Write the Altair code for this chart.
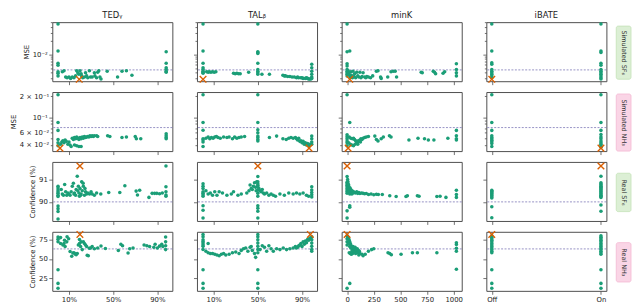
import altair as alt
import pandas as pd

W, H = 122, 60

def col(x, ys):
    return [(x, y) for y in ys]

# ---------------- Row 1: Simulated SF6 (MSE, log) ----------------
SF6SIM_TED = col(0.1, [0.0465, 0.0119, 0.0064, 0.0058, 0.0042, 0.0039, 0.0034]) + [
    (4, 0.0042), (5.5, 0.0044), (7, 0.0032), (8.3, 0.0031), (10, 0.0032), (11.5, 0.0030),
    (13, 0.0032), (14.5, 0.0031), (16, 0.0034), (17, 0.0044), (18, 0.0040), (19, 0.0037),
    (20, 0.0044), (21, 0.0038), (21.5, 0.0034), (22.5, 0.0031), (24, 0.0032), (25, 0.0040),
    (26, 0.0034), (27, 0.0031), (28.5, 0.0044), (29.5, 0.0032), (31, 0.0032), (33, 0.0040),
    (33.5, 0.0034), (35, 0.0031), (36, 0.0041), (37, 0.0044), (38, 0.0032), (39, 0.0029),
    (44.6, 0.0043), (54, 0.0032), (58, 0.0043), (62, 0.0044), (67, 0.0035)] + \
    col(98, [0.0115, 0.0064, 0.0051, 0.0047, 0.0043, 0.0041])
SF6SIM_TAL = col(0.4, [0.0465, 0.0119, 0.0064, 0.0051, 0.0047, 0.0043, 0.0041, 0.0039]) + [
    (3.7, 0.0042), (5, 0.0041), (6, 0.0042), (7.5, 0.0041), (9, 0.0042), (10.5, 0.0041),
    (12, 0.0042), (28, 0.0039), (29.5, 0.0038), (31, 0.0039), (32.5, 0.0038), (34, 0.0038),
    (41.7, 0.0041)] + col(50, [0.0465, 0.0115, 0.0110, 0.0105, 0.0064, 0.0047, 0.0043, 0.0040, 0.0037]) + [
    (53.7, 0.0037), (60.5, 0.0037), (72.7, 0.0035), (74, 0.0034), (75, 0.0034), (77, 0.0033),
    (79, 0.0033), (81, 0.0032), (83, 0.0032), (85, 0.0031), (86, 0.0032), (87, 0.0031),
    (89, 0.0031), (90, 0.0031), (91, 0.0030), (93, 0.0030), (94, 0.0031), (95, 0.0030),
    (96, 0.0029), (97, 0.0029), (98, 0.0029)] + \
    col(98.8, [0.0061, 0.0051, 0.0043, 0.0037, 0.0032, 0.0030])
SF6SIM_MINK = col(0, [0.0465, 0.0115, 0.0063, 0.0056, 0.0047, 0.0043, 0.0040, 0.0037, 0.0034]) + [
    (25, 0.0119), (10, 0.0044), (15, 0.0036), (20, 0.0040), (30, 0.0032), (35, 0.0042),
    (40, 0.0035), (50, 0.0031), (55, 0.0043), (65, 0.0033), (70, 0.0038), (80, 0.0031),
    (90, 0.0041), (100, 0.0034), (110, 0.0032), (120, 0.0041), (130, 0.0031), (140, 0.0033),
    (150, 0.0040), (165, 0.0032), (175, 0.0031), (185, 0.0033), (200, 0.0032), (220, 0.0031),
    (240, 0.0034), (275, 0.0043), (290, 0.0044), (314, 0.0032), (320, 0.0030), (381, 0.0032),
    (412, 0.0042), (433, 0.0043), (451, 0.0043), (464, 0.0032), (695, 0.0041), (705, 0.0040),
    (808, 0.0043), (820, 0.0041), (830, 0.0038), (900, 0.0039), (915, 0.0042)] + \
    col(1025, [0.0063, 0.0047, 0.0040, 0.0034])
SF6SIM_IBATE = col(0, [0.0465, 0.0119, 0.0066, 0.0061, 0.0047, 0.0043, 0.0040, 0.0037, 0.0034, 0.0031]) + \
    col(1, [0.0465, 0.0119, 0.0110, 0.0064, 0.0058, 0.0047, 0.0043, 0.0040, 0.0037, 0.0034, 0.0031, 0.0029])

# ---------------- Row 2: Simulated NH3 (MSE, log) ----------------
NH3SIM_TED = col(0.1, [0.21, 0.084, 0.0647, 0.048, 0.043, 0.039]) + [
    (2.5, 0.041), (3.5, 0.044), (4.5, 0.046), (5.5, 0.043), (6.5, 0.047), (7.5, 0.045),
    (9, 0.041), (10, 0.044), (11, 0.040), (12, 0.038), (13, 0.050), (14, 0.048), (15, 0.051),
    (16, 0.049), (17, 0.052), (18, 0.050), (19, 0.048), (20, 0.051), (21, 0.049), (22, 0.052),
    (23, 0.050), (24, 0.053), (25, 0.051), (26, 0.052), (27, 0.053), (28, 0.052), (29, 0.054),
    (30, 0.053), (31, 0.054), (32, 0.053), (33, 0.054), (35, 0.054), (36, 0.053), (15, 0.040),
    (17, 0.039), (19, 0.038), (21, 0.038), (45, 0.054), (47, 0.053), (58, 0.051), (62, 0.052),
    (70, 0.053), (71, 0.049), (75, 0.049)] + col(98, [0.058, 0.054, 0.051, 0.049])
NH3SIM_TAL = col(0.4, [0.21, 0.084, 0.065, 0.049, 0.047, 0.044, 0.038]) + [
    (3, 0.050), (5, 0.052), (6.5, 0.049), (8, 0.051), (9.5, 0.050), (11, 0.052), (12.5, 0.053),
    (14, 0.051), (16, 0.050), (19, 0.052), (22, 0.051), (24, 0.052), (27, 0.049), (29, 0.052),
    (31, 0.050), (33, 0.051), (35, 0.052), (38, 0.053)] + \
    col(50, [0.21, 0.084, 0.066, 0.060, 0.0535, 0.051, 0.048, 0.0456]) + [
    (60.5, 0.051), (67, 0.0535), (72.7, 0.049), (75.7, 0.048), (78, 0.050), (80, 0.051),
    (82, 0.050), (84, 0.051), (85, 0.049), (86, 0.047), (87, 0.050), (88, 0.045), (89, 0.046),
    (90, 0.043), (91, 0.045), (92, 0.041), (93, 0.043), (94, 0.040), (95, 0.042), (96, 0.039),
    (97, 0.041)] + col(98.8, [0.0535, 0.049, 0.044, 0.041])
NH3SIM_MINK = col(0, [0.21, 0.056, 0.0525, 0.049, 0.0456, 0.043, 0.039]) + [
    (25, 0.084), (15, 0.043), (20, 0.052), (30, 0.041), (35, 0.050), (45, 0.040), (50, 0.049),
    (60, 0.050), (60, 0.039), (70, 0.048), (75, 0.041), (80, 0.046), (90, 0.043), (95, 0.044),
    (100, 0.041), (105, 0.046), (110, 0.045), (120, 0.047), (125, 0.044), (130, 0.049),
    (140, 0.048), (150, 0.050), (165, 0.051), (180, 0.052), (200, 0.053), (260, 0.0535),
    (275, 0.048), (290, 0.0456), (320, 0.049), (340, 0.052), (397, 0.054), (412, 0.052),
    (580, 0.047), (665, 0.050), (726, 0.049), (762, 0.047), (814, 0.047), (945, 0.050)] + \
    col(1025, [0.0647, 0.054, 0.049, 0.047])
NH3SIM_IBATE = col(0, [0.21, 0.084, 0.0647, 0.054, 0.051, 0.049, 0.0467, 0.0445, 0.042, 0.038]) + \
    col(1, [0.21, 0.084, 0.0647, 0.0563, 0.052, 0.049, 0.0456, 0.043, 0.041, 0.039, 0.037])

# ---------------- Row 3: Real SF6 (Confidence %) ----------------
SF6REAL_TED = col(0.1, [90.7, 90.62, 90.53, 90.45, 90.38, 90.3, 90.24, 89.82, 89.7, 89.57, 89.24]) + [
    (3, 90.55), (4, 90.35), (5, 90.3), (6.1, 90.77), (7, 90.45), (8, 90.3), (9, 90.4),
    (10, 90.35), (11, 90.3), (12, 90.45), (13, 90.7), (14, 90.83), (14.5, 90.35), (15, 90.4),
    (16, 90.3), (16.5, 90.55), (17.5, 91.14), (18, 90.5), (18.5, 90.7), (19, 90.4), (19.5, 90.25),
    (20, 90.6), (20.5, 90.3), (21, 90.35), (21.5, 90.9), (22, 90.5), (22.8, 90.83), (23, 90.7),
    (24, 90.3), (24.5, 90.6), (25, 90.45), (26, 90.35), (27, 90.4), (28.6, 90.35), (30, 90.45),
    (31, 90.35), (33, 90.3), (35, 90.4), (38.8, 90.35), (46, 90.42), (56, 90.42), (60.6, 90.72),
    (70.8, 90.48), (72, 90.31), (74, 90.52), (82.4, 90.2), (85.3, 90.38), (87.5, 90.38),
    (89.5, 90.38), (92, 90.36), (94.5, 90.4)] + col(97.8, [91.6, 90.67, 90.45, 90.31, 90.25])
SF6REAL_TAL = col(0.4, [90.81, 90.7, 90.6, 90.45, 90.39, 90.32, 90.25, 89.83, 89.63, 89.28]) + [
    (3, 90.5), (5, 90.35), (7, 90.4), (9, 90.3), (11, 90.45), (13, 90.3), (15, 90.45), (18, 90.4),
    (22, 90.3), (26, 90.35), (28, 90.45), (32, 90.3), (35, 90.35), (40, 90.4), (42, 90.5),
    (43, 90.75), (44, 90.6), (45, 90.55), (46, 90.7), (47, 90.85), (48, 90.65), (48.5, 90.5),
    (49, 90.9)] + col(50, [91.13, 90.9, 90.81, 90.74, 90.67, 90.53, 90.39, 90.25, 89.83, 89.72, 89.58, 89.28]) + [
    (51, 90.6), (52, 90.5), (53, 90.45), (54, 90.55), (55, 90.4), (56, 90.35), (58, 90.4),
    (60, 90.3), (62, 90.35), (64, 90.3), (66, 90.25), (70, 90.35), (74, 90.3), (78, 90.4),
    (82, 90.35), (85, 90.4), (88, 90.35), (91, 90.4), (94, 90.3), (96, 90.25)] + \
    col(98.8, [90.67, 90.53, 90.42, 90.32, 90.22])
SF6REAL_MINK = col(0, [91.13, 90.88, 90.81, 90.74, 90.67, 90.6, 90.53, 90.46, 90.39, 89.6, 89.28]) + [
    (25, 89.83), (25, 89.76), (5, 91.0), (8, 90.9), (10, 90.8), (12, 90.7), (15, 90.75),
    (18, 90.65), (20, 90.6), (22, 90.55), (25, 90.5), (28, 90.62), (30, 90.45), (35, 90.55),
    (40, 90.5), (45, 90.42), (50, 90.48), (55, 90.4), (60, 90.45), (70, 90.42), (80, 90.4),
    (90, 90.45), (100, 90.38), (110, 90.42), (120, 90.37), (135, 90.4), (150, 90.38),
    (165, 90.36), (180, 90.37), (201, 90.33), (225, 90.35), (250, 90.32), (275, 90.34),
    (293, 90.33), (330, 90.33), (400, 90.27), (460, 90.24), (552, 90.24), (565, 90.27),
    (659, 90.27), (675, 90.25), (842, 90.24), (872, 90.25), (927, 90.2), (15, 90.45),
    (25, 90.35), (35, 90.4), (45, 90.35)] + col(1025, [90.52, 90.33, 90.2])
SF6REAL_IBATE = col(0, [90.52, 90.47, 90.42, 90.37, 90.32, 90.27, 90.22, 90.17, 89.78, 89.29]) + \
    col(1, [91.14, 90.85, 90.8, 90.75, 90.7, 90.65, 90.6, 90.55, 90.5, 90.45, 90.4, 90.35, 90.3,
            90.25, 90.2, 89.86, 89.58])

# ---------------- Row 4: Real NH3 (Confidence %) ----------------
NH3REAL_TED = col(0.1, [78.4, 75.5, 72.1, 36, 18.4, 12]) + [
    (2.4, 77.5), (2.4, 70), (4.5, 68), (5.5, 70), (6, 74), (6.5, 66), (8, 72), (8.3, 78.7),
    (9.7, 76), (11, 59.6), (12.5, 53.4), (13.5, 57.5), (14.5, 58), (15.5, 56.5), (16.5, 55.4),
    (17.5, 57), (18.5, 68), (19.5, 70), (19.5, 75), (20.5, 66), (21, 72), (22, 62), (23, 72),
    (24, 70), (25, 68), (26, 66), (26.5, 54.6), (27.5, 54), (28.5, 63.7), (29.5, 64),
    (31, 65.9), (33, 63), (36, 64), (39, 66.7), (43, 63.5), (54.7, 60.9), (57, 69), (58.5, 67),
    (63.5, 57.5), (65, 63), (68, 64), (78, 68), (80.5, 67), (83, 66), (86.8, 65), (88, 69),
    (90, 64), (92, 66.5), (94, 69), (95, 66)] + col(97.5, [78.4, 72, 67, 62])
NH3REAL_TAL = col(0.4, [81.6, 78.7, 74.6, 72.5, 70.4, 68.3, 66.2, 62.1, 36, 18.4, 12]) + [
    (3, 60), (5, 58), (5, 70), (7, 57), (9, 57), (11, 56), (13, 55), (15, 54), (17, 56), (19, 57),
    (21, 55), (24, 56), (27, 58), (30, 59), (33, 57), (35, 61), (37, 63), (39, 64), (41, 60),
    (43, 65), (44, 66), (45, 61), (47, 57), (48, 52)] + \
    col(50, [81.6, 78.7, 74.6, 70.4, 66.2, 62.1, 58, 36, 18.4, 12]) + [
    (52, 62), (54, 67), (56, 65), (58, 60), (60, 67), (62, 63), (64, 60), (67, 63), (70, 62),
    (73, 64), (76, 62), (79, 63), (82, 64), (84, 66), (85, 64), (86, 65), (87, 67), (88, 68),
    (89, 70), (90, 66), (91, 72), (92, 69), (93, 73), (94, 71), (95, 75), (96, 74), (97, 77),
    (98, 76)] + col(98.8, [78.7, 74.6, 70.4, 66.2, 62.1, 60])
NH3REAL_MINK = col(0, [80, 76, 72, 68, 12]) + [
    (25, 18.4), (10, 78), (15, 76), (20, 74), (25, 72), (30, 70), (35, 68), (40, 66), (45, 64),
    (50, 63), (60, 62), (70, 61), (80, 60), (90, 59), (20, 58), (30, 57), (40, 56), (50, 57),
    (60, 58), (70, 59), (80, 57), (100, 58), (120, 57), (140, 56), (110, 55), (150, 54),
    (15, 70), (25, 66), (35, 64), (45, 60), (55, 66), (65, 64), (75, 65), (85, 62), (95, 63),
    (105, 61), (115, 60), (170, 56), (200, 60), (230, 62), (250, 63), (384, 58), (400, 57),
    (415, 55.4), (506, 56), (613, 58), (659, 58), (842, 58)] + \
    col(1025, [70.8, 68.5, 63.7, 60, 36.6])
NH3REAL_IBATE = col(0, [80, 78, 76, 74, 72, 70, 68, 66, 64, 62, 60, 58, 36, 18.4, 12]) + \
    col(1, [80, 78, 76, 74, 72, 70, 68, 66, 64, 62, 60, 58, 56, 36, 18.4, 12])

DATA = [
    [SF6SIM_TED, SF6SIM_TAL, SF6SIM_MINK, SF6SIM_IBATE],
    [NH3SIM_TED, NH3SIM_TAL, NH3SIM_MINK, NH3SIM_IBATE],
    [SF6REAL_TED, SF6REAL_TAL, SF6REAL_MINK, SF6REAL_IBATE],
    [NH3REAL_TED, NH3REAL_TAL, NH3REAL_MINK, NH3REAL_IBATE],
]
BEST = [
    [(19.3, 0.00286), (0.4, 0.00286), (25, 0.00286), (0, 0.00286)],
    [(1.9, 0.036), (96.4, 0.036), (10, 0.036), (1, 0.036)],
    [(19.9, 91.6), (50, 91.6), (0, 91.6), (1, 91.6)],
    [(19.9, 81.6), (97.5, 81.6), (0, 81.6), (0, 81.6)],
]
REF_LINES = [0.0046, 0.071, 90.0, 62.9]

COL_TITLES = ["TEDᵧ", "TALᵦ", "minK", "iBATE"]
ROW_LABELS = ["Simulated SF₆", "Simulated NH₃", "Real SF₆", "Real NH₃"]
STRIP_FILL = ["#dcefd5", "#fad5e6", "#dcefd5", "#fad5e6"]
STRIP_STROKE = ["#c3e2b6", "#f3b8d2", "#c3e2b6", "#f3b8d2"]
STRIP_LEN = [54, 58, 39, 40]

X_INFO = [
    dict(domain=[-5.1, 103.6], values=[10, 50, 90], expr="datum.value + '%'"),
    dict(domain=[-5.1, 103.6], values=[10, 50, 90], expr="datum.value + '%'"),
    dict(domain=[-51, 1075], values=[0, 250, 500, 750, 1000], expr="format(datum.value, 'd')"),
    dict(domain=[-0.05, 1.05], values=[0, 1], expr="datum.value == 0 ? 'Off' : 'On'"),
]
Y_INFO = [
    dict(type="log", domain=[0.0026, 0.051],
         values=[0.003, 0.004, 0.005, 0.006, 0.007, 0.008, 0.009, 0.01, 0.02, 0.03, 0.04, 0.05],
         expr="datum.value == 0.01 ? '10⁻²' : ''", major="datum.value == 0.01", title="MSE"),
    dict(type="log", domain=[0.0326, 0.23],
         values=[0.04, 0.05, 0.06, 0.07, 0.08, 0.09, 0.1, 0.2],
         expr="datum.value == 0.2 ? '2 × 10⁻¹' : datum.value == 0.1 ? '10⁻¹' : "
              "datum.value == 0.06 ? '6 × 10⁻²' : datum.value == 0.04 ? '4 × 10⁻²' : ''",
         major="datum.value == 0.1", title="MSE"),
    dict(type="linear", domain=[89.15, 91.78], values=[90, 91], expr="datum.label",
         major="true", title="Confidence (%)"),
    dict(type="linear", domain=[8.75, 85], values=[25, 50, 75], expr="datum.label",
         major="true", title="Confidence (%)"),
]

GREEN = "#1b9e77"
ORANGE = "#d95f02"
XPATH = "M-1,-1L1,1M1,-1L-1,1"


def panel(r, c):
    xi, yi = X_INFO[c], Y_INFO[r]
    xaxis = alt.Axis(values=xi["values"], labelExpr=xi["expr"], labels=(r == 3), title=None,
                     tickSize=3.5)
    yargs = dict(values=yi["values"], labelExpr=yi["expr"], labels=(c == 0),
                 tickSize={"condition": {"test": yi["major"], "value": 3.5}, "value": 2})
    yaxis = alt.Axis(title=yi["title"], **yargs) if c == 0 else alt.Axis(title=None, **yargs)
    xenc = alt.X("x:Q", scale=alt.Scale(domain=xi["domain"], nice=False, zero=False), axis=xaxis)
    yenc = alt.Y("y:Q", scale=alt.Scale(type=yi["type"], domain=yi["domain"], nice=False, zero=False),
                 axis=yaxis)
    pts = pd.DataFrame(DATA[r][c], columns=["x", "y"])
    best = pd.DataFrame([BEST[r][c]], columns=["x", "y"])
    ref = pd.DataFrame({"x": [xi["domain"][0]], "y": [REF_LINES[r]]})
    rule = alt.Chart(ref).mark_rule(color="#7570b3", strokeDash=[2, 1.5], strokeWidth=0.9,
                                    opacity=0.85).encode(y=yenc)
    dots = alt.Chart(pts).mark_circle(size=13, color=GREEN, opacity=1).encode(x=xenc, y=yenc)
    star = alt.Chart(best).mark_point(shape=XPATH, filled=False, stroke=ORANGE, strokeWidth=1.4,
                                      size=45, opacity=1).encode(x=xenc, y=yenc)
    layers = [rule, dots, star]
    if c == 3:
        sdf = pd.DataFrame({"t": [ROW_LABELS[r]]})
        top = H / 2 + 1 - STRIP_LEN[r] / 2
        rect = alt.Chart(sdf).mark_rect(fill=STRIP_FILL[r], stroke=STRIP_STROKE[r], strokeWidth=0.8,
                                        cornerRadius=2).encode(
            x=alt.value(W + 10), x2=alt.value(W + 25), y=alt.value(top), y2=alt.value(top + STRIP_LEN[r]))
        txt = alt.Chart(sdf).mark_text(angle=90, fontSize=6.5, font="DejaVu Sans", color="#333",
                                       align="center", baseline="middle").encode(
            x=alt.value(W + 17.5), y=alt.value(H / 2 + 1), text="t:N")
        layers += [rect, txt]
    ch = alt.layer(*layers).properties(width=W, height=H)
    if r == 0:
        ch = ch.properties(title=alt.TitleParams(COL_TITLES[c], anchor="middle"))
    return ch


panels = [panel(r, c) for r in range(4) for c in range(4)]

chart = alt.concat(*panels, columns=4, spacing={"row": 11, "column": 25}, bounds="flush").properties(
    padding=0
).configure_view(
    stroke="#4d4d4d", strokeWidth=1
).configure_axis(
    domain=False, grid=False, tickColor="#4d4d4d", tickWidth=0.8, labelColor="#222",
    labelFont="DejaVu Sans", labelFontSize=7, titleFont="DejaVu Sans", titleFontSize=7,
    titleFontWeight="normal", titleColor="#222", labelPadding=1.5, titlePadding=3
).configure_title(
    font="DejaVu Sans", fontSize=8.5, fontWeight="normal", color="#222", offset=2
)

chart.save("out.html", embed_options={"renderer": "svg", "actions": False})
